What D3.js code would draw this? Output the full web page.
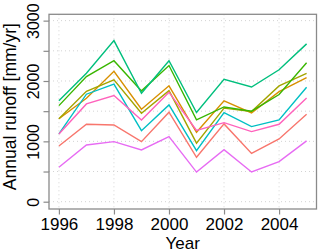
<!DOCTYPE html>
<html><head><meta charset="utf-8">
<script src="https://cdn.jsdelivr.net/npm/d3@7"></script>
<style>
html,body{margin:0;padding:0;background:#fff;}
svg{display:block;}
text{font-family:"Liberation Sans",Arial,Helvetica,sans-serif;fill:#000;}
</style></head>
<body>
<svg id="c" width="320" height="252"></svg>
<script>
const years = [1996,1997,1998,1999,2000,2001,2002,2003,2004,2005];
const seriesNames = ["s1","s2","s3","s4","s5","s6","s9","s10"];
const seriesColors = ["#F8766D","#D89000","#A3A500","#39B600","#00BF7D","#00BFC4","#E76BF3","#FF62BC"];
const s1  = [924, 1283, 1272, 995, 1482, 736, 1289, 800, 1040, 1449];
const s2  = [1375, 1714, 2160, 1532, 1920, 1150, 1670, 1470, 1824, 2056];
const s3  = [1375, 1830, 2018, 1466, 1841, 970, 1550, 1493, 1919, 2127];
const s4  = [1592, 2073, 2336, 1836, 2256, 1355, 1570, 1500, 1775, 2303];
const s5  = [1672, 2129, 2670, 1797, 2336, 1478, 2027, 1900, 2186, 2615];
const s6  = [1123, 1781, 1947, 1177, 1604, 846, 1476, 1244, 1355, 1897];
const s9  = [570, 940, 995, 857, 1078, 490, 862, 493, 663, 1007];
const s10 = [1123, 1620, 1758, 1355, 1814, 1180, 1310, 1161, 1283, 1720];
const seriesValues = [s1,s2,s3,s4,s5,s6,s9,s10];
const xTicks = [1996,1998,2000,2002,2004];
const yTicks = [0,500,1000,1500,2000,2500,3000];
const yLabels = [0,1000,2000,3000];
const xTitle = "Year";
const yTitle = "Annual runoff [mm/yr]";

const svg = d3.select("#c");
const L = 49, R = 316.5, T = 14.3, B = 209;
const x = d3.scaleLinear().domain([1995.64, 2005.36]).range([L, R]);
const y = d3.scaleLinear().domain([-121, 3105]).range([B, T]);

// grid
const g = svg.append("g");
g.selectAll(".gx").data(xTicks).join("line")
  .attr("x1", d=>x(d)).attr("x2", d=>x(d)).attr("y1", T).attr("y2", B)
  .attr("stroke", "#d3d3d3").attr("stroke-width", 1).attr("stroke-dasharray", "1,3");
g.selectAll(".gy").data(yTicks).join("line")
  .attr("y1", d=>y(d)).attr("y2", d=>y(d)).attr("x1", L).attr("x2", R)
  .attr("stroke", "#d3d3d3").attr("stroke-width", 1).attr("stroke-dasharray", "1,3");

// lines
const line = d3.line().x((d,i)=>x(years[i])).y(d=>y(d));
svg.append("g").selectAll("path").data(seriesValues).join("path")
  .attr("d", d=>line(d)).attr("fill","none")
  .attr("stroke", (d,i)=>seriesColors[i]).attr("stroke-width", 1.4)
  .attr("stroke-linejoin","miter");

// box
svg.append("rect").attr("x", L).attr("y", T).attr("width", R-L).attr("height", B-T)
  .attr("fill","none").attr("stroke","#8a8a8a").attr("stroke-width",1.3);

// axes
const xAxis = d3.axisBottom(x).tickValues(xTicks).tickFormat(d3.format("d")).tickSize(5.5).tickPadding(3);
const xa = svg.append("g").attr("transform", `translate(0,${B})`).call(xAxis);
xa.select(".domain").remove();
xa.selectAll("line").attr("stroke","#8a8a8a").attr("stroke-width",1.2);
xa.selectAll("text").attr("font-size", 17).attr("font-family","Liberation Sans, Arial, sans-serif").attr("fill","#000");

const yAxis = d3.axisLeft(y).tickValues(yTicks).tickFormat(d=>yLabels.includes(d)?d:"").tickSize(5.5).tickPadding(3);
const ya = svg.append("g").attr("transform", `translate(${L},0)`).call(yAxis);
ya.select(".domain").remove();
ya.selectAll("line").attr("stroke","#8a8a8a").attr("stroke-width",1.2);
ya.selectAll("text").attr("font-size", 16).attr("font-family","Liberation Sans, Arial, sans-serif").attr("fill","#000")
  .attr("x", null).attr("dy", null)
  .attr("text-anchor","middle")
  .attr("transform", "translate(-10.5,0) rotate(-90)");

// titles
svg.append("text").attr("x", (L+R)/2).attr("y", 248.5).attr("text-anchor","middle")
  .attr("font-size", 17).text(xTitle);
svg.append("text").attr("transform", `translate(16,${(T+B)/2 - 5}) rotate(-90)`)
  .attr("text-anchor","middle").attr("font-size", 17.5).text(yTitle);
</script>
</body></html>
